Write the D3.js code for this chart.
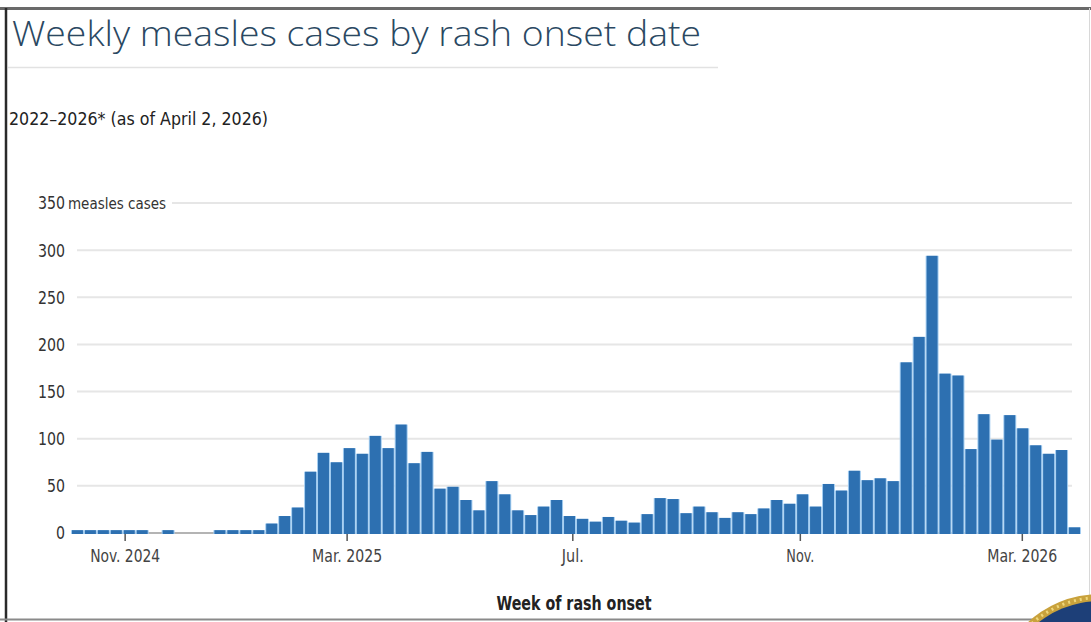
<!DOCTYPE html>
<html><head><meta charset="utf-8">
<script src="https://cdn.jsdelivr.net/npm/d3@7"></script>
<style>
html,body{margin:0;padding:0;background:#fff;}
svg{display:block;}
</style></head>
<body>
<svg id="chart" width="1091" height="622"></svg>
<script>
// ---- data ----
const title = "Weekly measles cases by rash onset date";
const subtitle = "2022\u20132026* (as of April 2, 2026)";
const xAxisTitle = "Week of rash onset";
const yUnitLabel = "measles cases";
const firstWeek = new Date(2024, 9, 3);   // first weekly bar
const lastDate = new Date(2026, 3, 2);    // as of date (end of last week)
const cases = [
  3, 3, 3, 3, 3, 3, 0, 3, 0, 0, 0, 3, 3, 3, 3, 10, 18, 27,
  65, 85, 75, 90, 84, 103, 90, 115, 74, 86, 47, 49, 35, 24, 55, 41, 24, 19,
  28, 35, 18, 15, 12, 17, 13, 11, 20, 37, 36, 21, 28, 22, 16, 22, 20, 26,
  35, 31, 41, 28, 52, 45, 66, 56, 58, 55, 181, 208, 294, 169, 167, 89,
  126, 99, 125, 111, 93, 84, 88, 6
];
const yTicks = [0, 50, 100, 150, 200, 250, 300, 350];
const xTickDates = [new Date(2024,10,1), new Date(2025,2,1), new Date(2025,6,1), new Date(2025,10,1), new Date(2026,2,1)];
const xTickLabels = ["Nov. 2024", "Mar. 2025", "Jul.", "Nov.", "Mar. 2026"];

const weeks = cases.map((v, i) => ({ start: d3.timeDay.offset(firstWeek, 7 * i), end: d3.timeDay.offset(firstWeek, 7 * (i + 1)), value: v }));

// ---- layout ----
const svg = d3.select("#chart");
const x = d3.scaleTime().domain([firstWeek, lastDate]).range([71, 1081]);
const y = d3.scaleLinear().domain([0, 350]).range([533, 203]);
const narrow = "'Liberation Sans Narrow','Arial Narrow','DejaVu Sans Condensed',sans-serif";

// frame
svg.append("rect").attr("x", 0).attr("y", 0).attr("width", 1091).attr("height", 622).attr("fill", "#fff");
svg.append("line").attr("x1", 0).attr("x2", 1091).attr("y1", 8.5).attr("y2", 8.5).attr("stroke", "#6a6a6a").attr("stroke-width", 3);
svg.append("line").attr("x1", 6).attr("x2", 6).attr("y1", 8).attr("y2", 622).attr("stroke", "#2a2a2a").attr("stroke-width", 2.5);
svg.append("line").attr("x1", 0).attr("x2", 1091).attr("y1", 619.5).attr("y2", 619.5).attr("stroke", "#8a8a8a").attr("stroke-width", 2);
svg.append("line").attr("x1", 1089.5).attr("x2", 1089.5).attr("y1", 8).attr("y2", 622).attr("stroke", "#d8d8d8").attr("stroke-width", 1);

// title
svg.append("text").attr("x", 12).attr("y", 46).text(title)
  .attr("font-family", "'Open Sans',sans-serif").attr("font-weight", 300).attr("font-size", 35)
  .attr("fill", "#2a4862").attr("textLength", 689).attr("lengthAdjust", "spacingAndGlyphs");
svg.append("line").attr("x1", 8).attr("x2", 718).attr("y1", 67.5).attr("y2", 67.5).attr("stroke", "#e2e2e2").attr("stroke-width", 1.5);

svg.append("text").attr("x", 9).attr("y", 125).text(subtitle)
  .attr("font-family", narrow).attr("font-size", 18).attr("fill", "#222")
  .attr("textLength", 259).attr("lengthAdjust", "spacingAndGlyphs");

// gridlines
svg.append("g").selectAll("line").data(yTicks.filter(d => d > 0)).join("line")
  .attr("x1", d => d === 350 ? 172 : 77).attr("x2", 1072)
  .attr("y1", d => y(d)).attr("y2", d => y(d))
  .attr("stroke", "#e6e6e6").attr("stroke-width", 2);

// y labels
svg.append("g").selectAll("text").data(yTicks).join("text")
  .attr("x", 65).attr("y", d => y(d)).attr("dy", "0.36em").attr("text-anchor", "end")
  .attr("font-family", narrow).attr("font-size", 18).attr("fill", "#333")
  .attr("textLength", d => String(d).length * 9).attr("lengthAdjust", "spacingAndGlyphs")
  .text(d => d);
svg.append("text").attr("x", 68).attr("y", y(350)).attr("dy", "0.36em").text(yUnitLabel)
  .attr("font-family", narrow).attr("font-size", 16).attr("fill", "#333")
  .attr("textLength", 98).attr("lengthAdjust", "spacingAndGlyphs");

// baseline
svg.append("line").attr("x1", 72).attr("x2", 1080).attr("y1", y(0)).attr("y2", y(0)).attr("stroke", "#b4b4b4").attr("stroke-width", 2);

// bars: light halo + core
const bars = svg.append("g");
bars.selectAll("rect.halo").data(weeks.filter(d => d.value > 0)).join("rect").attr("class", "halo")
  .attr("x", d => x(d.start)).attr("width", d => x(d.end) - x(d.start))
  .attr("y", d => y(d.value)).attr("height", d => y(0) - y(d.value) + 1)
  .attr("fill", "#a3cdf1");
bars.selectAll("rect.core").data(weeks.filter(d => d.value > 0)).join("rect").attr("class", "core")
  .attr("x", d => x(d.start) + 1).attr("width", d => x(d.end) - x(d.start) - 2)
  .attr("y", d => y(d.value)).attr("height", d => y(0) - y(d.value) + 1)
  .attr("fill", "#2d70b1");

// x axis ticks
const xLabelWidths = [70, 70, 22, 28, 70];
const xAxis = d3.axisBottom(x).tickValues(xTickDates).tickSize(7).tickPadding(8)
  .tickFormat((d, i) => xTickLabels[i]);
const gx = svg.append("g").attr("transform", `translate(0,${y(0) + 1})`).call(xAxis);
gx.select(".domain").remove();
gx.selectAll(".tick line").attr("stroke", "#555").attr("stroke-width", 1.5);
gx.selectAll(".tick text").attr("font-family", narrow).attr("font-size", 18).attr("fill", "#444")
  .attr("textLength", (d, i) => xLabelWidths[i]).attr("lengthAdjust", "spacingAndGlyphs");

svg.append("text").attr("x", 574).attr("y", 610).attr("text-anchor", "middle").text(xAxisTitle)
  .attr("font-family", narrow).attr("font-weight", "bold").attr("font-size", 19).attr("fill", "#222")
  .attr("textLength", 155).attr("lengthAdjust", "spacingAndGlyphs");

// partial seal, bottom right
const seal = svg.append("g");
seal.append("circle").attr("cx", 1100).attr("cy", 700).attr("r", 106).attr("fill", "#c9a23c");
seal.append("circle").attr("cx", 1100).attr("cy", 700).attr("r", 99).attr("fill", "#1d3f78");
seal.append("circle").attr("cx", 1100).attr("cy", 700).attr("r", 102.5).attr("fill", "none")
  .attr("stroke", "#f0d77a").attr("stroke-width", 3).attr("stroke-dasharray", "2 4");
</script>
</body></html>
